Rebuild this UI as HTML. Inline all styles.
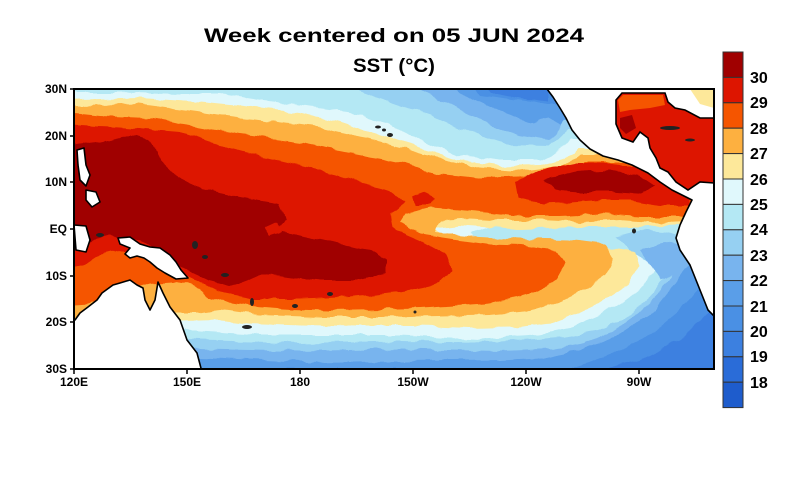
<!DOCTYPE html>
<html><head><meta charset="utf-8"><style>
html,body{margin:0;padding:0;background:#fff;}
svg{display:block;}
</style></head><body>
<svg width="800" height="480" viewBox="0 0 800 480" xmlns="http://www.w3.org/2000/svg">
<defs>
<clipPath id="map"><rect x="74" y="89" width="640" height="280"/></clipPath>
<filter id="wob" x="-5%" y="-5%" width="110%" height="110%">
<feTurbulence type="fractalNoise" baseFrequency="0.06" numOctaves="2" seed="3"/>
<feDisplacementMap in="SourceGraphic" scale="7" xChannelSelector="R" yChannelSelector="G"/>
</filter>
</defs>
<rect width="800" height="480" fill="#fff"/>
<text x="394" y="42" font-family="Liberation Sans, sans-serif" font-size="19" font-weight="bold" text-anchor="middle" textLength="380" lengthAdjust="spacingAndGlyphs">Week centered on 05 JUN 2024</text>
<text x="394" y="72" font-family="Liberation Sans, sans-serif" font-size="19" font-weight="bold" text-anchor="middle" textLength="82" lengthAdjust="spacingAndGlyphs">SST (°C)</text>

<g clip-path="url(#map)">
<rect x="60" y="80" width="670" height="300" fill="#4a90e4"/>
<g filter="url(#wob)">
<path fill="#3c80e0" d="M590,372 L640,360 L680,340 L705,315 L720,300 L720,372 Z"/>
<path fill="#3c80e0" d="M480,80 L548,80 L548,102 L520,98 L490,92 Z"/>
<path fill="#4a90e4" d="M720,280 L700,295 L680,320 L650,340 L610,357 L570,372 L720,372 Z" opacity="0"/>
<path fill="#5a9ee8" d="M60,80 L470,80 L480,95 L520,100 L548,105 L714,105 L720,270 L700,285 L680,310 L650,335 L610,355 L570,369 L60,369 Z"/>
<path fill="#78b4ee" d="M60,80 L440,80 L470,98 L500,112 L530,122 L548,118 L560,125 L720,125 L720,245 L690,262 L670,290 L650,315 L620,335 L580,350 L540,358 L500,360 L300,362 L200,358 L60,356 Z"/>
<path fill="#96d0f2" d="M60,80 L400,80 L450,105 L490,125 L520,135 L550,140 L565,120 L720,120 L720,240 L690,250 L675,270 L660,292 L640,312 L615,330 L585,343 L550,349 L500,351 L400,349 L300,351 L200,349 L60,345 Z"/>
<path fill="#b4e8f4" d="M60,80 L330,80 L380,98 L430,115 L470,132 L510,145 L550,146 L568,130 L720,130 L720,235 L680,255 L665,275 L650,297 L630,315 L600,330 L560,338 L500,342 L400,341 L300,343 L200,340 L60,335 Z"/>
<path fill="#e0f8fc" d="M60,92 L120,92 L180,94 L220,94 L260,100 L300,105 L350,112 L390,125 L420,140 L460,155 L500,160 L540,160 L560,150 L572,138 L720,138 L720,225 L690,228 L665,250 L655,268 L645,285 L625,300 L598,316 L570,328 L530,336 L480,339 L400,335 L330,335 L260,335 L200,331 L150,326 L60,326 Z"/>
<path fill="#b4e8f4" d="M488,227 L540,226 L600,226 L650,224 L680,222 L700,225 L700,245 L680,255 L668,268 L655,262 L640,252 L610,250 L580,248 L540,247 L500,245 L480,240 L470,234 Z"/>
<path fill="#96d0f2" d="M615,236 L640,230 L665,232 L690,240 L680,255 L665,268 L650,262 L630,252 Z"/>
<path fill="#78b4ee" d="M640,250 L665,242 L690,248 L680,270 L660,280 Z"/>
<path fill="#fde89a" d="M60,100 L140,98 L200,102 L240,106 L300,113 L340,122 L380,135 L420,148 L460,160 L500,166 L540,165 L565,158 L578,148 L720,148 L720,222 L690,224 L640,227 L580,227 L520,229 L490,227 L460,225 L435,228 L445,236 L480,240 L500,241 L530,243 L560,245 L600,246 L635,252 L640,265 L628,285 L605,300 L578,313 L550,322 L510,327 L470,328 L420,326 L360,326 L300,325 L250,323 L220,320 L180,321 L60,324 Z"/>
<path fill="#fdb040" d="M60,106 L140,104 L200,112 L260,120 L320,128 L380,142 L430,156 L480,168 L520,171 L560,166 L580,155 L720,155 L720,220 L690,221 L660,223 L620,220 L580,222 L540,220 L500,220 L470,218 L440,220 L436,232 L480,237 L520,239 L570,240 L605,244 L615,258 L605,276 L585,290 L560,302 L530,311 L490,315 L440,316 L380,317 L320,317 L260,315 L220,310 L200,313 L150,313 L100,316 L60,320 Z"/>
<path fill="#f55500" d="M60,112 L100,116 L150,118 L200,127 L240,134 L300,142 L350,152 L400,162 L440,174 L480,178 L520,177 L560,174 L585,162 L720,162 L720,215 L680,217 L640,217 L600,214 L560,216 L520,216 L490,213 L460,210 L430,208 L405,214 L400,222 L420,234 L460,240 L490,244 L520,245 L555,250 L565,262 L555,280 L535,292 L510,299 L485,304 L455,306 L420,308 L380,309 L330,310 L290,309 L250,306 L225,302 L210,297 L195,286 L180,282 L150,284 L130,290 L110,298 L90,304 L60,306 Z"/>
<path fill="#dd1500" d="M60,124 L120,127 L180,132 L220,145 L270,158 L320,170 L360,182 L390,192 L405,202 L390,214 L392,228 L420,240 L445,254 L452,270 L440,284 L400,292 L350,297 L300,299 L250,299 L225,294 L205,284 L182,275 L162,262 L140,250 L120,250 L100,255 L85,265 L60,270 Z"/>
<path fill="#dd1500" d="M515,182 L540,170 L575,163 L610,163 L640,168 L665,178 L690,195 L690,205 L660,205 L630,200 L600,200 L570,202 L540,203 L518,198 Z"/>
<path fill="#dd1500" d="M412,198 L425,193 L435,198 L430,205 L415,205 Z"/>
<path fill="#a00000" d="M60,148 L100,142 L130,135 L150,140 L160,160 L175,175 L200,188 L240,197 L280,204 L286,218 L278,230 L300,235 L340,244 L370,250 L386,260 L386,272 L360,280 L320,280 L290,276 L262,273 L246,280 L230,286 L210,281 L195,274 L180,267 L165,255 L150,245 L130,238 L110,236 L95,240 L80,246 L60,250 Z"/>
<path fill="#dd1500" d="M265,228 L278,222 L282,232 L270,236 Z"/>
<path fill="#a00000" d="M545,180 L575,172 L610,170 L640,176 L655,186 L640,194 L610,192 L580,192 L555,190 Z"/>
</g>

<g fill="#fff" stroke="#000" stroke-width="1.6" stroke-linejoin="round">
<path d="M547,89 L720,89 L720,322 L708,310 L700,290 L690,265 L680,250 L676,238 L680,225 L686,212 L692,200 L684,196 L672,190 L660,182 L648,173 L632,165 L618,160 L603,156 L590,149 L580,140 L572,130 L566,118 L560,108 L553,97 Z"/>
<path d="M60,322 L75,320 L80,313 L88,307 L97,300 L102,293 L113,285 L120,283 L130,280 L137,285 L143,288 L145,300 L150,310 L155,300 L158,282 L163,293 L170,307 L180,320 L187,340 L197,353 L202,372 L60,372 Z"/>
<path d="M118,238 L130,237 L140,244 L150,247 L160,248 L170,255 L176,262 L181,270 L188,278 L176,279 L165,273 L157,268 L150,262 L144,258 L137,256 L130,258 L125,254 L130,248 L120,244 Z"/>
<path d="M77,150 L84,148 L86,165 L90,175 L86,186 L80,180 L78,165 Z"/>
<path d="M86,190 L96,192 L100,202 L92,207 L86,200 Z"/>
<path d="M74,225 L86,226 L90,240 L86,252 L76,250 Z"/>
</g>
<path fill="#dd1500" stroke="#000" stroke-width="1.6" d="M616,100 L622,93 L665,93 L668,102 L675,108 L685,110 L700,118 L714,118 L714,183 L700,182 L688,190 L676,182 L668,172 L660,168 L656,158 L650,148 L648,138 L640,132 L633,142 L622,138 L616,124 Z"/>
<path fill="#f55500" d="M618,100 L623,95 L663,95 L665,105 L650,108 L630,110 L620,112 Z"/>
<path fill="#a00000" d="M620,118 L632,115 L636,128 L626,134 L620,128 Z"/>
<path fill="#fde89a" d="M690,89 L714,89 L714,108 L700,104 Z"/>
<g fill="#222">
<ellipse cx="378" cy="127" rx="3" ry="1.5"/><ellipse cx="384" cy="130" rx="2" ry="1.5"/><ellipse cx="390" cy="135" rx="3" ry="2"/>
<ellipse cx="670" cy="128" rx="10" ry="2"/><ellipse cx="690" cy="140" rx="5" ry="1.5"/>
<ellipse cx="205" cy="257" rx="3" ry="2"/><ellipse cx="225" cy="275" rx="4" ry="2"/><ellipse cx="252" cy="302" rx="2" ry="4"/>
<ellipse cx="247" cy="327" rx="5" ry="2"/><ellipse cx="330" cy="294" rx="3" ry="2"/><ellipse cx="415" cy="312" rx="1.5" ry="1.5"/>
<ellipse cx="634" cy="231" rx="2" ry="2.5"/><ellipse cx="295" cy="306" rx="3" ry="2"/>
<ellipse cx="195" cy="245" rx="3" ry="4"/><ellipse cx="100" cy="235" rx="4" ry="2"/>
</g>
</g>
<rect x="74" y="89" width="640" height="280" fill="none" stroke="#000" stroke-width="2"/>

<g stroke="#000" stroke-width="1.5">
<line x1="70" y1="89" x2="74" y2="89"/><line x1="70" y1="136" x2="74" y2="136"/><line x1="70" y1="182" x2="74" y2="182"/>
<line x1="70" y1="229" x2="74" y2="229"/><line x1="70" y1="276" x2="74" y2="276"/><line x1="70" y1="322" x2="74" y2="322"/><line x1="70" y1="369" x2="74" y2="369"/>
<line x1="74" y1="369" x2="74" y2="374"/><line x1="187" y1="369" x2="187" y2="374"/><line x1="300" y1="369" x2="300" y2="374"/>
<line x1="413" y1="369" x2="413" y2="374"/><line x1="526" y1="369" x2="526" y2="374"/><line x1="639" y1="369" x2="639" y2="374"/>
</g>
<g font-family="Liberation Sans, sans-serif" font-size="12" font-weight="bold" fill="#000">
<text x="67" y="93" text-anchor="end">30N</text>
<text x="67" y="140" text-anchor="end">20N</text>
<text x="67" y="186" text-anchor="end">10N</text>
<text x="67" y="233" text-anchor="end">EQ</text>
<text x="67" y="280" text-anchor="end">10S</text>
<text x="67" y="326" text-anchor="end">20S</text>
<text x="67" y="373" text-anchor="end">30S</text>
<g text-anchor="middle">
<text x="74" y="386">120E</text><text x="187" y="386">150E</text><text x="300" y="386">180</text>
<text x="413" y="386">150W</text><text x="526" y="386">120W</text><text x="639" y="386">90W</text>
</g>
</g>

<g stroke="#333" stroke-width="1">
<rect x="723" y="52" width="20" height="25.4" fill="#a00000"/>
<rect x="723" y="77.4" width="20" height="25.4" fill="#dd1500"/>
<rect x="723" y="102.8" width="20" height="25.4" fill="#f55500"/>
<rect x="723" y="128.2" width="20" height="25.4" fill="#fdb040"/>
<rect x="723" y="153.6" width="20" height="25.4" fill="#fde89a"/>
<rect x="723" y="179" width="20" height="25.4" fill="#e0f8fc"/>
<rect x="723" y="204.4" width="20" height="25.4" fill="#b4e8f4"/>
<rect x="723" y="229.8" width="20" height="25.4" fill="#96d0f2"/>
<rect x="723" y="255.2" width="20" height="25.4" fill="#78b4ee"/>
<rect x="723" y="280.6" width="20" height="25.4" fill="#5a9ee8"/>
<rect x="723" y="306" width="20" height="25.4" fill="#4a90e4"/>
<rect x="723" y="331.4" width="20" height="25.4" fill="#3c80e0"/>
<rect x="723" y="356.8" width="20" height="25.4" fill="#2a6cd8"/>
<rect x="723" y="382.2" width="20" height="25.4" fill="#1e5ccc"/>
</g>
<g font-family="Liberation Sans, sans-serif" font-size="16" font-weight="bold" fill="#000">
<text x="750" y="83">30</text><text x="750" y="108">29</text><text x="750" y="134">28</text>
<text x="750" y="159">27</text><text x="750" y="185">26</text><text x="750" y="210">25</text>
<text x="750" y="235">24</text><text x="750" y="261">23</text><text x="750" y="286">22</text>
<text x="750" y="312">21</text><text x="750" y="337">20</text><text x="750" y="362">19</text>
<text x="750" y="388">18</text>
</g>
</svg>
</body></html>
